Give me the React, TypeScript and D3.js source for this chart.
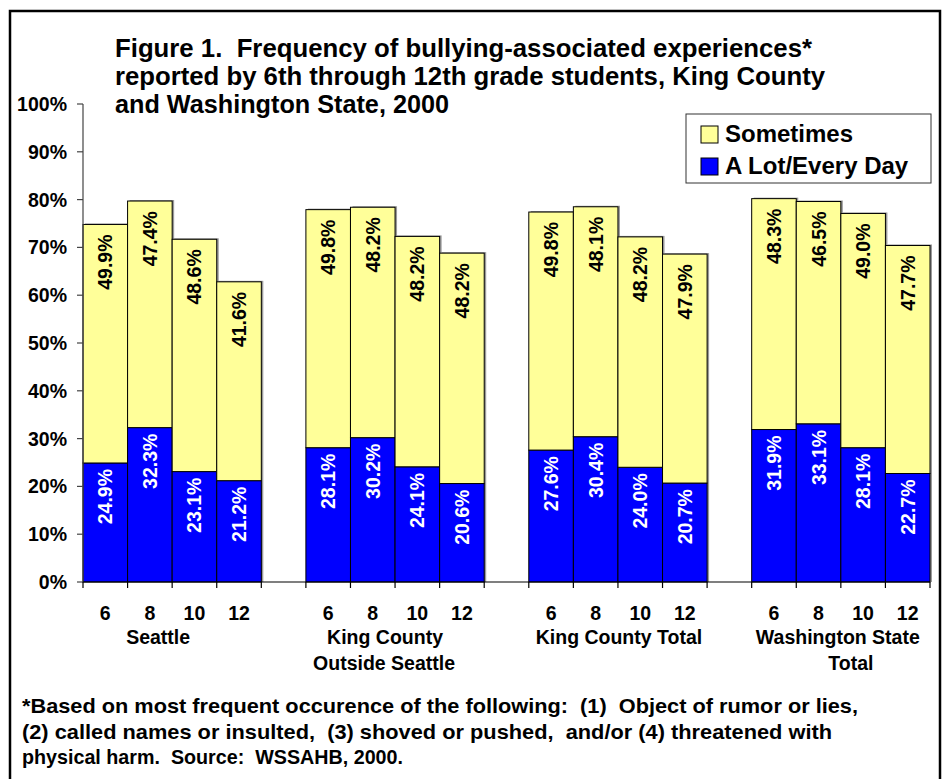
import React from "react";
import * as d3 from "d3";

const groups = ["Seattle", "King County\nOutside Seattle", "King County Total", "Washington State\nTotal"];
const grades = ["6", "8", "10", "12"];
const aLot = [
  [24.9, 32.3, 23.1, 21.2],
  [28.1, 30.2, 24.1, 20.6],
  [27.6, 30.4, 24.0, 20.7],
  [31.9, 33.1, 28.1, 22.7],
];
const sometimes = [
  [49.9, 47.4, 48.6, 41.6],
  [49.8, 48.2, 48.2, 48.2],
  [49.8, 48.1, 48.2, 47.9],
  [48.3, 46.5, 49.0, 47.7],
];
const yTicks = [0, 10, 20, 30, 40, 50, 60, 70, 80, 90, 100];
const titleLines = [
  "Figure 1.  Frequency of bullying-associated experiences*",
  "reported by 6th through 12th grade students, King County",
  "and Washington State, 2000",
];
const footLines = [
  "*Based on most frequent occurence of the following:  (1)  Object of rumor or lies,",
  "(2) called names or insulted,  (3) shoved or pushed,  and/or (4) threatened with",
  "physical harm.  Source:  WSSAHB, 2000.",
];
const legendItems = [
  { label: "Sometimes", color: "#FFFF99" },
  { label: "A Lot/Every Day", color: "#0000FF" },
];

// layout (not data)
const groupLabelShift = [[-14], [-10, -11], [1], [-3, 10]];
const titleWidths = [697, 710, 334];
const footWidths = [836, 810, 381];

const FONT = "'Liberation Sans', Arial, Helvetica, sans-serif";
const keepSpaces = (s: string) => s.replace(/  /g, "\u00A0 ");

export default function App() {
  const W = 948, H = 779;
  const slots: string[] = [];
  groups.forEach((g, gi) => {
    grades.forEach((gr, i) => slots.push(`${gi}-${i}`));
    if (gi < groups.length - 1) slots.push(`gap${gi}`);
  });
  const x = d3.scaleBand<string>().domain(slots).range([83, 930]).padding(0);
  const y = d3.scaleLinear().domain([0, 100]).range([582, 104]);
  const bw = x.bandwidth();
  const boundaries = slots.map((s) => x(s)!).concat([930]);

  const bars: any[] = [];
  groups.forEach((g, gi) => {
    grades.forEach((gr, i) => {
      const key = `${gi}-${i}`;
      const x0 = x(key)!;
      const b = aLot[gi][i];
      const s = sometimes[gi][i];
      bars.push({ key, x0, b, s });
    });
  });

  return (
    <svg
      width={W}
      height={H}
      style={{ position: "absolute", left: 0, top: 0, background: "#fff" }}
      fontFamily={FONT}
    >
      <rect x={0} y={0} width={W} height={H} fill="#fff" />
      <rect x={10} y={11} width={930} height={800} fill="none" stroke="#000" strokeWidth={2.5} />

      {/* title */}
      {titleLines.map((t, i) => (
        <text
          key={i}
          x={115}
          y={57 + i * 28}
          fontSize={25.5}
          fontWeight="bold"
          fill="#000"
          textLength={titleWidths[i]}
          lengthAdjust="spacingAndGlyphs"
        >
          {keepSpaces(t)}
        </text>
      ))}

      {/* bar shadows */}
      {bars.map((d) => (
        <rect
          key={"sh" + d.key}
          x={d.x0 + 2}
          y={y(d.b + d.s) - 1}
          width={bw}
          height={y(0) - y(d.b + d.s) + 1}
          fill="#9a9a9a"
        />
      ))}
      {/* bars */}
      {bars.map((d) => (
        <g key={d.key}>
          <rect x={d.x0} y={y(d.b)} width={bw} height={y(0) - y(d.b)} fill="#0000FF" stroke="#000" strokeWidth={1} />
          <rect
            x={d.x0}
            y={y(d.b + d.s)}
            width={bw}
            height={y(d.b) - y(d.b + d.s)}
            fill="#FFFF99"
            stroke="#000"
            strokeWidth={1}
          />
          <text
            transform={`translate(${d.x0 + bw / 2},${y(d.b + d.s) + 10}) rotate(-90)`}
            textAnchor="end"
            dy="0.36em"
            fontSize={19.5}
            fontWeight="bold"
            fill="#000"
          >
            {d.s.toFixed(1)}%
          </text>
          <text
            transform={`translate(${d.x0 + bw / 2},${y(d.b) + 6}) rotate(-90)`}
            textAnchor="end"
            dy="0.36em"
            fontSize={19.5}
            fontWeight="bold"
            fill="#fff"
          >
            {d.b.toFixed(1)}%
          </text>
        </g>
      ))}

      {/* y axis */}
      <line x1={83} x2={83} y1={y(100)} y2={y(0)} stroke="#444" strokeWidth={1.2} />
      {yTicks.map((t) => (
        <g key={t}>
          <line x1={77} x2={83} y1={y(t)} y2={y(t)} stroke="#444" strokeWidth={1.2} />
          <text x={67} y={y(t) + 7} textAnchor="end" fontSize={19.5} fontWeight="bold" fill="#000">
            {t}%
          </text>
        </g>
      ))}

      {/* x axis */}
      <line x1={83} x2={930} y1={y(0)} y2={y(0)} stroke="#000" strokeWidth={1.2} />
      {boundaries.map((bx, i) => (
        <line key={i} x1={bx} x2={bx} y1={y(0)} y2={y(0) + 6} stroke="#000" strokeWidth={1.2} />
      ))}
      {bars.map((d) => (
        <text
          key={"gl" + d.key}
          x={d.x0 + bw / 2}
          y={619.5}
          textAnchor="middle"
          fontSize={19.5}
          fontWeight="bold"
          fill="#000"
        >
          {grades[+d.key.split("-")[1]]}
        </text>
      ))}
      {groups.map((g, gi) => {
        const cx = (x(`${gi}-0`)! + x(`${gi}-3`)! + bw) / 2;
        return g.split("\n").map((line, li) => (
          <text
            key={g + li}
            x={cx + (groupLabelShift[gi][li] ?? 0)}
            y={644 + li * 26}
            textAnchor="middle"
            fontSize={19.5}
            fontWeight="bold"
            fill="#000"
          >
            {line}
          </text>
        ));
      })}

      {/* legend */}
      <rect x={686} y={114} width={245} height={69} fill="#fff" stroke="#333" strokeWidth={1} />
      {legendItems.map((it, i) => (
        <g key={it.label}>
          <rect x={701} y={126 + i * 32} width={17} height={17} fill={it.color} stroke="#000" strokeWidth={1} />
          <text x={725} y={142 + i * 32} fontSize={24} fontWeight="bold" fill="#000">
            {it.label}
          </text>
        </g>
      ))}

      {/* footnote */}
      {footLines.map((t, i) => (
        <text
          key={i}
          x={22}
          y={713 + i * 25.5}
          fontSize={20.5}
          fontWeight="bold"
          fill="#000"
          textLength={footWidths[i]}
          lengthAdjust="spacingAndGlyphs"
        >
          {keepSpaces(t)}
        </text>
      ))}
    </svg>
  );
}
